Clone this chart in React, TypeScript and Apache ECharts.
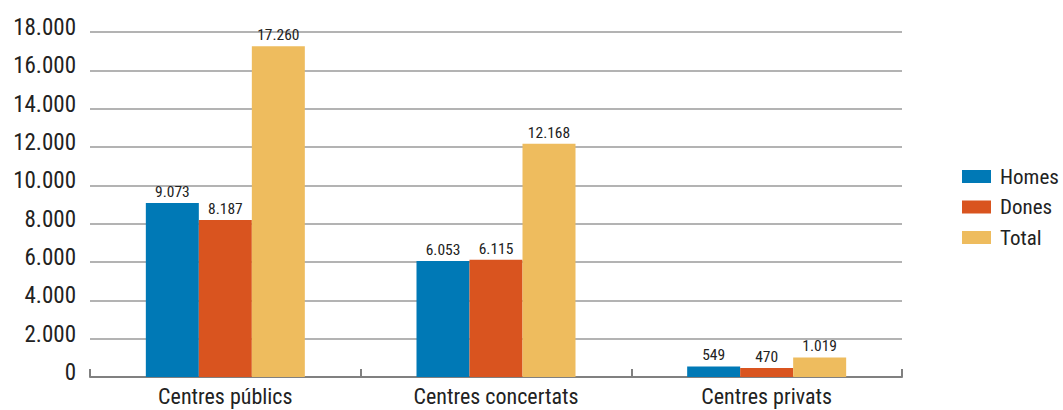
import React, { useEffect, useRef } from "react";
import * as echarts from "echarts";

const categories = ["Centres públics", "Centres concertats", "Centres privats"];
const homes = [9073, 6053, 549];
const dones = [8187, 6115, 470];
const total = [17260, 12168, 1019];
const seriesNames = ["Homes", "Dones", "Total"];
const colors = ["#0079B6", "#D9541F", "#EEBC5E"];

const FONT = "'Liberation Sans Narrow', 'Roboto Condensed', 'Liberation Sans', sans-serif";

const fmt = (v: number) => {
  const s = Math.round(v).toString();
  return s.replace(/\B(?=(\d{3})+(?!\d))/g, ".");
};

export default function App() {
  const ref = useRef<HTMLDivElement>(null);
  useEffect(() => {
    if (!ref.current) return;
    const chart = echarts.init(ref.current, undefined, { renderer: "svg" });
    const data = [homes, dones, total];
    chart.setOption({
      animation: false,
      backgroundColor: "#ffffff",
      grid: { left: 90, right: 161, top: 32, bottom: 33, containLabel: false },
      legend: {
        orient: "vertical",
        left: 962,
        top: 166,
        padding: 0,
        itemWidth: 29,
        itemHeight: 13,
        itemGap: 9.5,
        icon: "rect",
        textStyle: { fontFamily: FONT, fontSize: 21, lineHeight: 20, color: "#222", padding: [0, 0, 0, 4] },
        data: seriesNames,
      },
      xAxis: {
        type: "category",
        data: categories,
        axisLine: { lineStyle: { color: "#808080", width: 2 } },
        axisTick: { show: true, inside: true, length: 8, lineStyle: { color: "#808080", width: 2 } },
        axisLabel: { fontFamily: FONT, fontSize: 22, color: "#222", margin: 8 },
      },
      yAxis: {
        type: "value",
        min: 0,
        max: 18000,
        interval: 2000,
        axisLine: { show: false },
        axisTick: { show: false },
        splitLine: { lineStyle: { color: "#9a9a9a", width: 1.5 } },
        axisLabel: {
          margin: 14,
          formatter: (v: number) => "{a|" + fmt(v) + "}",
          rich: {
            a: { fontFamily: FONT, fontSize: 23, color: "#222", padding: [0, 0, 9, 0] },
          },
        },
      },
      series: seriesNames.map((name, i) => ({
        name,
        type: "bar",
        data: data[i],
        barWidth: 53,
        barGap: "0%",
        itemStyle: { color: colors[i] },
        label: {
          show: true,
          position: "top",
          distance: 3,
          fontFamily: FONT,
          fontSize: 15.5,
          color: "#222",
          formatter: (p: any) => fmt(p.value),
        },
      })),
    });
    return () => chart.dispose();
  }, []);
  return <div ref={ref} style={{ width: 1063, height: 410, position: "absolute", left: 0, top: 0 }} />;
}
